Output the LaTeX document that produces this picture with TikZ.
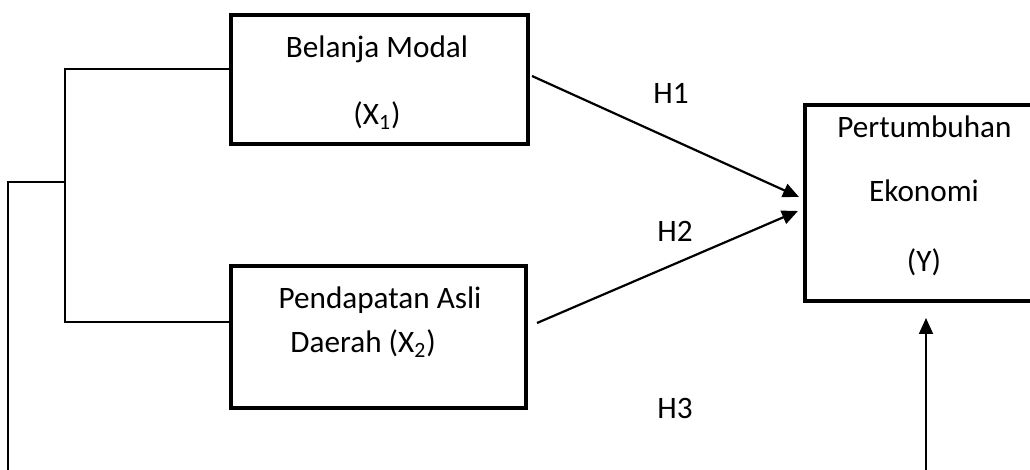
\documentclass[tikz,border=0pt]{standalone}
\usepackage{fontspec}
\setmainfont{Carlito}
\usetikzlibrary{arrows.meta}
\begin{document}
\begin{tikzpicture}[x=0.5pt,y=-0.5pt,
  box/.style={draw,line width=2pt,minimum width=#1,inner sep=0pt},
  lbl/.style={anchor=base,inner sep=0pt,font=\fontsize{15.6}{19}\selectfont},
  thin/.style={line width=0.9pt},
  arr/.style={line width=1.1pt,-{Triangle[length=8pt,width=7pt]}}]
\useasboundingbox (0,0) rectangle (1030,470);
\begin{scope}
\clip (0,0) rectangle (1030,470);
% boxes
\node[box=148.5pt,minimum height=64.5pt] (x1) at (379.5,79.5) {};
\node[box=147.5pt,minimum height=71pt] (x2) at (378.5,337) {};
\node[box=119pt,minimum height=98pt] (y) at (924,203) {};
% texts
\node[lbl] (t1a) at (377,58) {Belanja Modal};
\node[lbl] (t1b) at (377,125) {(X\textsubscript{1})};
\node[lbl] (t2a) at (380,309) {Pendapatan Asli};
\node[lbl,anchor=base west] (t2b) at (290,353) {Daerah (X\textsubscript{2})};
\node[lbl] (ya) at (924.5,138) {Pertumbuhan};
\node[lbl] (yb) at (924,202) {Ekonomi};
\node[lbl] (yc) at (924,272) {(Y)};
\node[lbl] (h1) at (671,104) {H1};
\node[lbl] (h2) at (675,242) {H2};
\node[lbl] (h3) at (675,419) {H3};
% bracket connectors
\coordinate (bt) at (65,69);
\coordinate (bb) at (65,322);
\coordinate (bm) at (65,182);
\coordinate (lm) at (8,182);
\coordinate (lb) at (8,470);
\coordinate (rb) at (926,470);
\draw[thin] (x1.west |- bt) -- (bt) -- (bb) -- (x2.west |- bb);
\draw[thin] (bm) -- (lm) -- (lb);
% arrows
\coordinate (s1) at (532,76);
\coordinate (e1) at (799,197);
\coordinate (s2) at (537,323);
\coordinate (e2) at (798,211);
\draw[arr] (s1) -- (e1);
\draw[arr] (s2) -- (e2);
\draw[arr,line width=0.9pt] (rb) -- ([yshift=-7.5pt]rb |- y.south);
\end{scope}
\end{tikzpicture}
\end{document}
